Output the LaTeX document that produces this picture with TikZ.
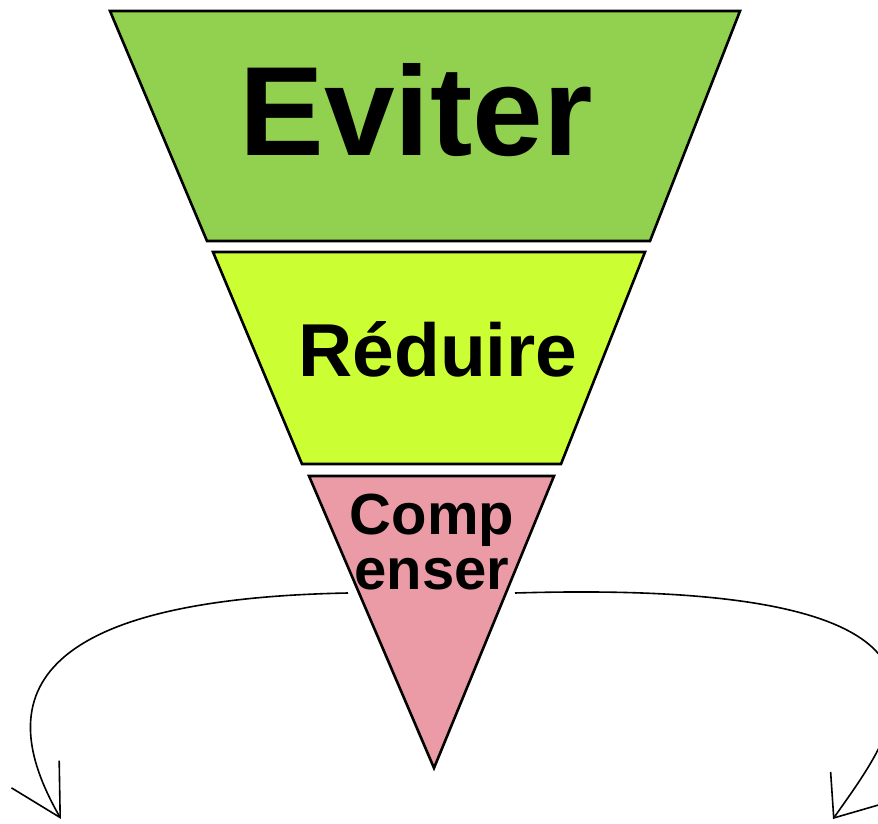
\documentclass[tikz,border=0pt]{standalone}
\usepackage{fontspec}
\setmainfont{Liberation Sans}
\usepackage{tikz}
\usetikzlibrary{arrows.meta}
\definecolor{avoidgreen}{RGB}{146, 208, 80}
\definecolor{reducelime}{RGB}{204, 255, 51}
\definecolor{offsetpink}{RGB}{234, 155, 166}

\begin{document}
\begin{tikzpicture}[
  x=1pt, y=-1pt,
  piece/.style={draw=black, line width=2.6pt, line join=miter},
  label/.style={inner sep=0pt, text=black, font=\bfseries},
  flow/.style={line width=1.6pt, black},
]
\useasboundingbox (0,0) rectangle (878,824);
\clip (0,0) rectangle (878,824);

% funnel pieces
\draw[piece, fill=avoidgreen] (110,11) -- (740,11) -- (650,241) -- (207,241) -- cycle;
\draw[piece, fill=reducelime] (213,252) -- (645,252) -- (561,464) -- (302,464) -- cycle;
\draw[piece, fill=offsetpink] (309,476) -- (554,476) -- (434,768) -- cycle;

% labels
\node[label, anchor=base, font=\fontsize{127}{127}\selectfont\bfseries] (avoid) at (416,156) {Eviter};
\node[label, anchor=base, font=\fontsize{75}{75}\selectfont\bfseries] (reduce) at (438,376) {Réduire};
\node[label, align=center, anchor=north, font=\fontsize{58}{55}\selectfont\bfseries] (offset) at (432,494) {Comp\\enser};

% arrows out of the tip
\coordinate (startL) at (348,593);
\coordinate (endL) at (61,819);
\coordinate (startR) at (515,593);
\coordinate (endR) at (833,819);
\draw[flow, -{Straight Barb[length=50pt, width=55pt, line width=1.6pt]}]
  (startL) .. controls (-20,600) and (10,730) .. (endL);
\draw[flow, -{Straight Barb[length=36pt, width=58pt, line width=1.6pt]}]
  (startR) .. controls (1020,578) and (896,729) .. (endR);
\end{tikzpicture}
\end{document}
